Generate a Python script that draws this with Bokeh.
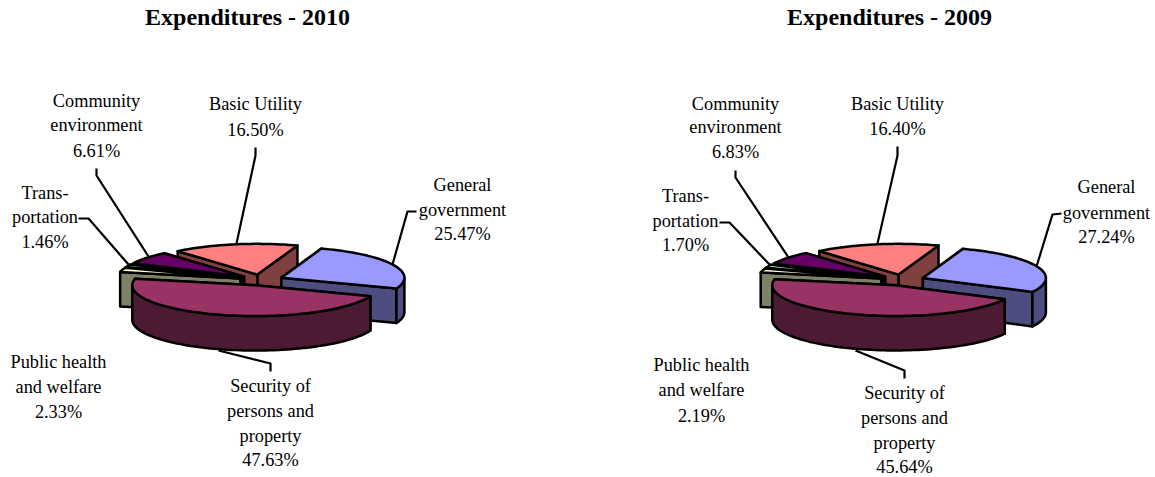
import math
from bokeh.plotting import figure
from bokeh.models import Range1d
from bokeh.core.properties import value
from bokeh.embed import file_html
from bokeh.resources import INLINE

# ---- data ----
categories = ["Basic Utility", "General government", "Security of persons and property",
              "Public health and welfare", "Transportation", "Community environment"]
values_2010 = [16.50, 25.47, 47.63, 2.33, 1.46, 6.61]
values_2009 = [16.40, 27.24, 45.64, 2.19, 1.70, 6.83]
title_2010 = "Expenditures - 2010"
title_2009 = "Expenditures - 2009"
label_lines = [["Basic Utility"], ["General", "government"], ["Security of", "persons and", "property"],
               ["Public health", "and welfare"], ["Trans-", "portation"], ["Community", "environment"]]

# ---- styles / layout ----
top_colors = ["#FF8080", "#9999FF", "#993366", "#FFFFCC", "#CCFFFF", "#660066"]
wall_colors = ["#804040", "#4D4D80", "#4D1A33", "#808066", "#668080", "#330033"]
draw_order = [0, 5, 4, 3, 1, 2]
START_DEG = 19.0   # clockwise from "up": where the first slice ends
R, K, DEPTH, EXPLODE = 123.0, 0.25, 34.5, 22.0
FONT = "Liberation Serif"
FS = "18.3px"
LINE_W = 2.5
TEXT_DY = -1.3

layouts = [
    dict(title=title_2010, values=values_2010, title_x=247, title_y=16.5, cx=261, cy=279.5,
         lx=[255, 462, 270, 58, 44.5, 96],
         ly=[[105, 131], [186, 211, 235], [387, 412, 437, 461], [363, 388, 413], [194, 218, 243], [102, 126, 152]],
         leaders=[[(255, 147), (255, 155), (236, 243)],
                  [(416, 211), (407, 211), (392, 264)],
                  [(270, 371), (270, 363), (218, 350)],
                  [(78, 218), (88, 218), (128, 264)],
                  [(96, 168), (96, 175), (148, 256)]]),
    dict(title=title_2009, values=values_2009, title_x=889, title_y=16.5, cx=902, cy=279.5,
         lx=[897, 1106, 904, 701, 685, 735],
         ly=[[105, 130], [188, 214, 238], [394, 419, 444, 468], [366, 391, 417], [197, 222, 246], [105, 128, 153]],
         leaders=[[(897, 146), (897, 155), (877, 243)],
                  [(1061, 213), (1052, 214), (1036, 266)],
                  [(904, 378), (904, 370), (855, 350)],
                  [(719, 222), (729, 222), (769, 264)],
                  [(735, 170), (735, 177), (788, 257)]]),
]

W, H = 1155, 477
p = figure(width=W, height=H, x_range=Range1d(0, W), y_range=Range1d(H, 0),
           output_backend="svg", toolbar_location=None, min_border=0)
p.axis.visible = False
p.grid.visible = False
p.outline_line_color = None


def pt(ax, ay, deg):
    t = math.radians(deg)
    return ax + R * math.sin(t), ay - R * K * math.cos(t)


def arc(ax, ay, a, b):
    n = max(2, int(abs(b - a) / 2) + 1)
    return [pt(ax, ay, a + (b - a) * i / (n - 1)) for i in range(n)]


def poly(points, color):
    p.patch([q[0] for q in points], [q[1] for q in points], fill_color=color,
            line_color="black", line_width=LINE_W, line_join="round")


def draw_pie(cfg):
    # leader lines sit behind the pie
    for line in cfg["leaders"]:
        p.line([q[0] for q in line], [q[1] for q in line], line_color="black",
               line_width=2.2, line_join="round")
    # clockwise angles from the values
    angles = {}
    a = START_DEG - cfg["values"][0] * 3.6
    for i, v in enumerate(cfg["values"]):
        b = a + v * 3.6
        angles[i] = (a, b)
        a = b
    for i in draw_order:
        a, b = angles[i]
        mid = math.radians((a + b) / 2)
        ax = cfg["cx"] + EXPLODE * math.sin(mid)
        ay = cfg["cy"] - EXPLODE * K * math.cos(mid)
        wall, top = wall_colors[i], top_colors[i]
        # radial walls, further one first
        for d in sorted([a, b], key=lambda e: pt(ax, ay, e)[1]):
            e = pt(ax, ay, d)
            poly([(ax, ay), e, (e[0], e[1] + DEPTH), (ax, ay + DEPTH)], wall)
        # outer wall: only the part facing the viewer
        lo, hi = max(a, 90), min(b, 270)
        if hi > lo:
            up = arc(ax, ay, lo, hi)
            poly(up + [(q[0], q[1] + DEPTH) for q in reversed(up)], wall)
        poly([(ax, ay)] + arc(ax, ay, a, b), top)
    # labels
    for i, lines in enumerate(label_lines):
        texts = lines + ["%.2f%%" % cfg["values"][i]]
        p.text([cfg["lx"][i]] * len(texts), [y + TEXT_DY for y in cfg["ly"][i]], text=texts, text_align="center",
               text_baseline="middle", text_font=value(FONT), text_font_size=FS, text_color="black")
    p.text([cfg["title_x"]], [cfg["title_y"]], text=[cfg["title"]], text_align="center",
           text_baseline="middle", text_font=value(FONT), text_font_size="24px",
           text_font_style="bold", text_color="black")


for cfg in layouts:
    draw_pie(cfg)

open("out.html", "w").write(file_html(p, INLINE))
